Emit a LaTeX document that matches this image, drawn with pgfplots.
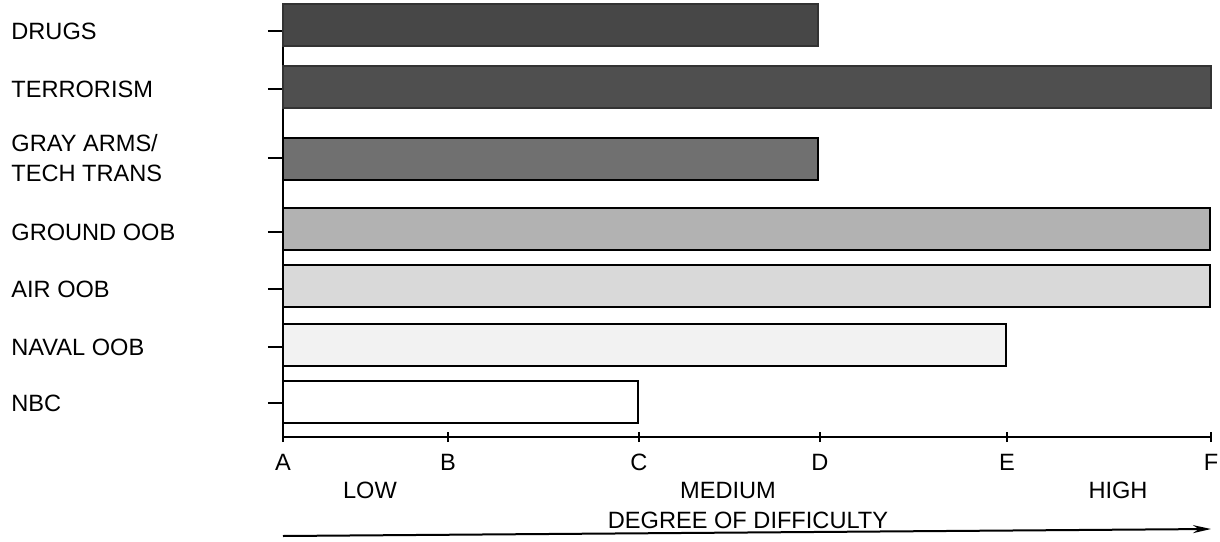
\documentclass[border=0pt]{standalone}
\usepackage{pgfplots}
\pgfplotsset{compat=1.18}
\usepackage{fontspec}
\setmainfont{Liberation Sans}
\usetikzlibrary{arrows.meta}
\definecolor{cdrugs}{gray}{0.28}
\definecolor{cterror}{gray}{0.31}
\definecolor{cgray}{gray}{0.44}
\definecolor{cground}{gray}{0.70}
\definecolor{cair}{gray}{0.85}
\definecolor{cnaval}{gray}{0.95}
\definecolor{cnbc}{gray}{1.0}
\begin{document}
\fontsize{11.8}{15}\selectfont
\begin{tikzpicture}
\begin{axis}[
  at={(0pt,0pt)}, anchor=south west,
  scale only axis, width=464.5pt, height=217pt,
  xmin=0, xmax=929, ymin=-437, ymax=-3,
  axis x line*=bottom, axis y line*=left,
  axis line style={line width=1pt, black},
  clip=false,
  xbar, bar width=21pt, bar shift=0pt,
  xtick={0,165,356,537,724,928},
  xticklabels={A,B,C,D,E,F},
  xtick align=center,
  major tick length=7.5pt,
  xtick style={/pgfplots/major tick length=5pt, line width=0.8pt, black},
  ytick style={line width=0.8pt, black},
  ytick align=outside,
  ytick={-31,-89,-158,-232,-289,-347,-403},
  yticklabels={DRUGS,TERRORISM,{GRAY ARMS/\\TECH TRANS},GROUND OOB,AIR OOB,NAVAL OOB,NBC},
  yticklabel style={anchor=west, align=left, inner sep=0pt, xshift=-128.5pt},
  xticklabel style={inner sep=0pt, yshift=-4.5pt},
  tick label style={font=\fontsize{11.8}{15}\selectfont},
]
\addplot[xbar, fill=cdrugs, draw=black!80, line width=0.8pt] coordinates {(535,-25)};
\addplot[xbar, fill=cterror, draw=black!80, line width=0.8pt] coordinates {(928,-87)};
\addplot[xbar, fill=cgray, draw=black, line width=0.9pt] coordinates {(535,-159)};
\addplot[xbar, fill=cground, draw=black, line width=1pt] coordinates {(927,-229)};
\addplot[xbar, fill=cair, draw=black, line width=1pt] coordinates {(927,-286)};
\addplot[xbar, fill=cnaval, draw=black, line width=1pt] coordinates {(723,-345)};
\addplot[xbar, fill=cnbc, draw=black, line width=1pt] coordinates {(355,-402)};
\node at (axis cs:87,-490) {LOW};
\node at (axis cs:445,-490) {MEDIUM};
\node at (axis cs:835,-490) {HIGH};
\node at (axis cs:465,-520) {DEGREE OF DIFFICULTY};
\draw[line width=1pt, -{Stealth[length=9pt,width=4pt]}] (axis cs:0,-536) -- (axis cs:928,-529);
\end{axis}
\pgfresetboundingbox
\path[use as bounding box] (-141.5pt,-52pt) rectangle (468.5pt,218.5pt);
\end{tikzpicture}
\end{document}
